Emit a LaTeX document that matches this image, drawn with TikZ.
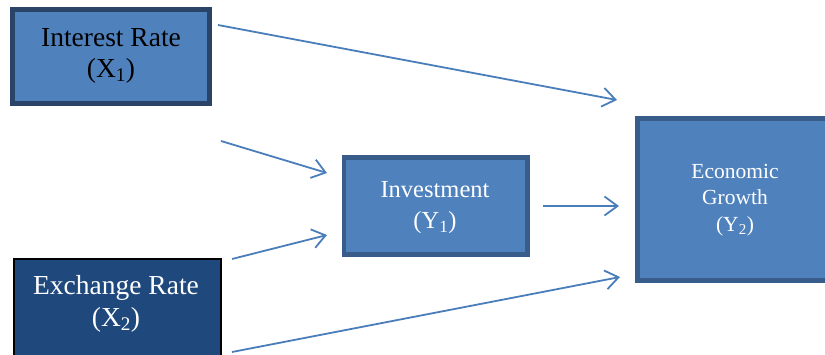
\documentclass[tikz,border=0pt]{standalone}
\usepackage{fontspec}
\setmainfont{Liberation Serif}
\usetikzlibrary{arrows.meta}
\definecolor{boxfill}{HTML}{4F81BD}
\definecolor{boxline}{HTML}{385D8A}
\definecolor{darkline}{HTML}{2A4468}
\definecolor{darkfill}{HTML}{1F497D}
\definecolor{arrowcol}{HTML}{4A7EBB}
\tikzset{
  conn/.style={draw=arrowcol, line width=1.8pt, -{Straight Barb[length=13pt,width=19pt,line width=1.8pt]}},
  txt/.style={align=center, inner sep=0pt},
}
\begin{document}
\begin{tikzpicture}[x=1pt,y=-1pt]
\useasboundingbox (0,0) rectangle (825,354);
\clip (0,0) rectangle (825,354);
% boxes
\draw[fill=boxfill, draw=darkline, line width=5pt] (12.5,9.5) rectangle (209.5,103.5);
\draw[fill=darkfill, draw=black, line width=1.5pt] (14,259) rectangle (221,360);
\draw[fill=boxfill, draw=boxline, line width=4.5pt] (344,157.5) rectangle (527.5,254.5);
\draw[fill=boxfill, draw=boxline, line width=4.5pt] (637.5,118.5) rectangle (840,280.5);
% texts
\node[txt, font=\fontsize{27.5}{31}\selectfont, text=black] (x1) at (111,56) {Interest Rate\\(X\textsubscript{1})};
\node[txt, font=\fontsize{27.5}{32}\selectfont, text=white] (x2) at (116,304) {Exchange Rate\\(X\textsubscript{2})};
\node[txt, font=\fontsize{24.5}{31}\selectfont, text=white] (y1) at (435,208) {Investment\\(Y\textsubscript{1})};
\node[txt, font=\fontsize{21.5}{26.5}\selectfont, text=white] (y2) at (735,200) {Economic\\Growth\\(Y\textsubscript{2})};
% connector endpoints
\coordinate (a1s) at (218,25);   \coordinate (a1e) at (617,100);
\coordinate (a2s) at (221,141);  \coordinate (a2e) at (327,173);
\coordinate (a3s) at (232,259);  \coordinate (a3e) at (327,235);
\coordinate (a4s) at (543,206);  \coordinate (a4e) at (619,206);
\coordinate (a5s) at (232,352);  \coordinate (a5e) at (620,277);
\draw[conn] (a1s) -- (a1e);
\draw[conn] (a2s) -- (a2e);
\draw[conn] (a3s) -- (a3e);
\draw[conn] (a4s) -- (a4e);
\draw[conn] (a5s) -- (a5e);
\end{tikzpicture}
\end{document}
